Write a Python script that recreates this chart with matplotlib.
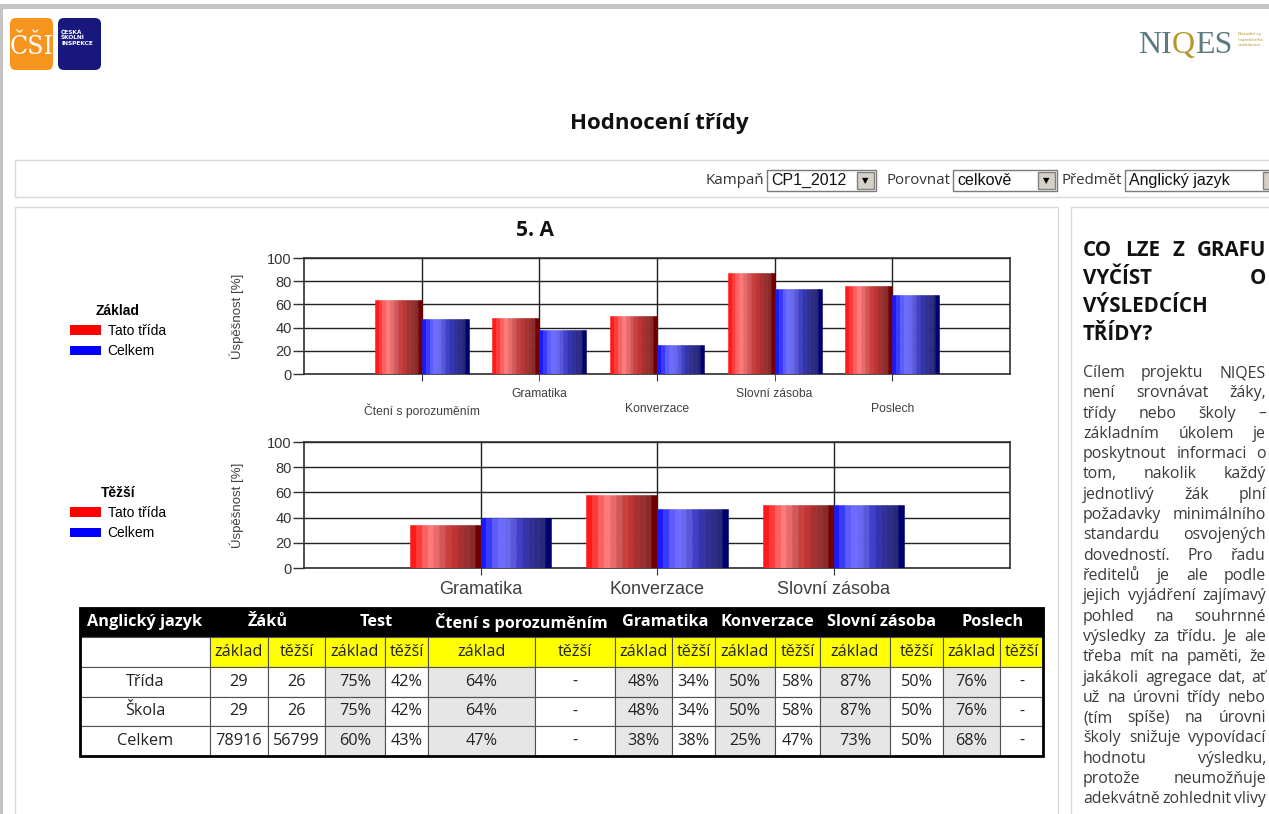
import matplotlib
matplotlib.use('Agg')
import matplotlib.pyplot as plt
from matplotlib.patches import Rectangle, FancyBboxPatch, Patch
import numpy as np

# chart data
cats_zaklad = ['Čtení s porozuměním', 'Gramatika', 'Konverzace', 'Slovní zásoba', 'Poslech']
trida_zaklad = [64, 48, 50, 87, 76]
celkem_zaklad = [47, 38, 25, 73, 68]

cats_tezsi = ['Gramatika', 'Konverzace', 'Slovní zásoba']
trida_tezsi = [34, 58, 50]
celkem_tezsi = [40, 47, 50]

# table data
table_head = ['Anglický jazyk', 'Žáků', 'Test', 'Čtení s porozuměním', 'Gramatika',
              'Konverzace', 'Slovní zásoba', 'Poslech']
sub_head = ['základ', 'těžší']
row_names = ['Třída', 'Škola', 'Celkem']
zaku_zaklad = ['29', '29', '78916']
zaku_tezsi = ['26', '26', '56799']
test_zaklad = ['75%', '75%', '60%']
test_tezsi = ['42%', '42%', '43%']
cteni_zaklad = ['64%', '64%', '47%']
cteni_tezsi = ['-', '-', '-']
gram_zaklad = ['48%', '48%', '38%']
gram_tezsi = ['34%', '34%', '38%']
konv_zaklad = ['50%', '50%', '25%']
konv_tezsi = ['58%', '58%', '47%']
slov_zaklad = ['87%', '87%', '73%']
slov_tezsi = ['50%', '50%', '50%']
posl_zaklad = ['76%', '76%', '68%']
posl_tezsi = ['-', '-', '-']

heading_lines = ['CO LZE Z GRAFU', 'VYČÍST O', 'VÝSLEDCÍCH', 'TŘÍDY?']
body_lines = [
    'Cílem projektu NIQES', 'není srovnávat žáky,', 'třídy nebo školy –',
    'základním úkolem je', 'poskytnout informaci o', 'tom, nakolik každý',
    'jednotlivý žák plní', 'požadavky minimálního', 'standardu osvojených',
    'dovedností. Pro řadu', 'ředitelů je ale podle', 'jejich vyjádření zajímavý',
    'pohled na souhrnné', 'výsledky za třídu. Je ale', 'třeba mít na paměti, že',
    'jakákoli agregace dat, ať', 'už na úrovni třídy nebo', '(tím spíše) na úrovni',
    'školy snižuje vypovídací', 'hodnotu výsledku,', 'protože neumožňuje',
    'adekvátně zohlednit vlivy',
]

red_stripes = ['#ff1a1a', '#ff3a3a', '#ff6060', '#ff7a7a', '#e86a6a', '#d05858',
               '#c84040', '#c03434', '#a83030', '#983030', '#8a2a2a', '#700000']
blue_stripes = ['#1a1aff', '#3a3aff', '#5c5cff', '#6c6cff', '#6868f0', '#5858d8',
                '#4040c8', '#3434b0', '#303098', '#2c2c8a', '#28287a', '#000070']

W, H = 1269, 814
PAGE_FONT = 'Open Sans'
CHART_FONT = 'Liberation Sans'

fig = plt.figure(figsize=(W / 100, H / 100), dpi=100)


def rect(x, y, w, h):
    return [x / W, 1 - (y + h) / H, w / W, h / H]


bg = fig.add_axes([0, 0, 1, 1], zorder=-5)
bg.set_xlim(0, W)
bg.set_ylim(H, 0)
bg.axis('off')

# page frame
bg.add_patch(Rectangle((0, 4), W, 5, fc='#c4c4c4', ec='none'))
bg.add_patch(Rectangle((0, 4), 3, H, fc='#c4c4c4', ec='none'))
bg.add_patch(Rectangle((15, 160), W, 37, fc='white', ec='#d8d8d8', lw=1))
bg.add_patch(Rectangle((15, 207), 1043, 620, fc='white', ec='#d8d8d8', lw=1))
bg.add_patch(Rectangle((1071, 207), 220, 620, fc='white', ec='#d8d8d8', lw=1))

# logos
bg.add_patch(FancyBboxPatch((12, 20), 39, 48, boxstyle='round,pad=2,rounding_size=6',
                            fc='#f7941e', ec='none'))
bg.text(31.5, 46, 'ČŠI', color='white', fontsize=19, ha='center', va='center',
        family='DejaVu Serif', fontstretch='condensed')
bg.add_patch(FancyBboxPatch((60, 20), 39, 48, boxstyle='round,pad=2,rounding_size=6',
                            fc='#17177e', ec='none'))
bg.text(61, 30, 'ČESKÁ\nŠKOLNÍ\nINSPEKCE', color='white', fontsize=4.2, fontweight='bold',
        ha='left', va='top', family='DejaVu Sans', linespacing=1.1)

t_ni = bg.text(1138, 53, 'NI', color='#5d7a83', fontsize=23, family='Liberation Serif',
               ha='left', va='baseline')
t_q = bg.annotate('Q', xy=(1, 0), xycoords=t_ni, color='#b8962e', fontsize=23,
                  family='Liberation Serif', ha='left', va='bottom')
bg.annotate('ES', xy=(1, 0), xycoords=t_q, color='#5d7a83', fontsize=23,
            family='Liberation Serif', ha='left', va='bottom')
bg.text(1238, 32, 'Národní sy\ninspekčního\nvzdělávací', color='#b8962e', fontsize=3.2,
        ha='left', va='top', linespacing=1.5)

bg.text(659, 124, 'Hodnocení třídy', fontsize=16, fontweight='bold', family=PAGE_FONT,
        ha='center', va='center', color='#111111')

# filter bar
boxes = [(767, 109, 'Kampaň', 'CP1_2012'), (953, 104, 'Porovnat', 'celkově'),
         (1125, 160, 'Předmět', 'Anglický jazyk')]
for bx, bw, label, txt in boxes:
    bg.text(bx - 3, 180, label, fontsize=10.8, family=PAGE_FONT, ha='right', va='center',
            color='#333')
    bg.add_patch(Rectangle((bx, 170), bw, 21, fc='white', ec='#7a7a7a', lw=1))
    bg.text(bx + 4, 180.5, txt, fontsize=11.5, family=CHART_FONT, ha='left', va='center',
            color='#111')
    btn_x = bx + bw - 19
    if btn_x < W - 10:
        bg.add_patch(Rectangle((btn_x, 172), 17, 17, fc='#d4d0c8', ec='#808080', lw=1))
        bg.text(btn_x + 8.5, 181, '▼', fontsize=6, ha='center', va='center', color='black')
bg.add_patch(Rectangle((1263, 172), 10, 17, fc='#d4d0c8', ec='#808080', lw=1))

bg.text(535, 230, '5. A', fontsize=15, fontweight='bold', family=PAGE_FONT,
        ha='center', va='center', color='#111111')


def striped_bars(ax, x, values, offset, colors):
    n = len(colors)
    w = 0.4 / n
    for k, c in enumerate(colors):
        ax.bar(x + offset + k * w, values, width=w, align='edge', color=c,
               edgecolor=c, linewidth=0.4, zorder=3)


def style_chart(ax, ncat):
    ax.set_xlim(-1, ncat)
    ax.set_ylim(0, 100)
    ax.set_yticks(range(0, 101, 20))
    ax.set_axisbelow(True)
    ax.grid(True, which='both', color='#202020', linewidth=1)
    for s in ax.spines.values():
        s.set_color('#303030')
        s.set_linewidth(1.2)
    ax.tick_params(axis='y', length=8, width=1, pad=1, labelsize=10.5,
                   color='#303030', labelcolor='#333333')
    for lbl in ax.get_yticklabels():
        lbl.set_family(CHART_FONT)
    ax.set_ylabel('Úspěšnost [%]', fontsize=9.5, family=CHART_FONT, color='#404040')
    ax.yaxis.set_label_coords(-0.085, 0.5)


# chart 1 - základ
ax1 = fig.add_axes(rect(304, 258, 706, 116))
x1 = np.arange(len(cats_zaklad))
striped_bars(ax1, x1, trida_zaklad, -0.4, red_stripes)
striped_bars(ax1, x1, celkem_zaklad, 0.0, blue_stripes)
style_chart(ax1, len(cats_zaklad))
ax1.set_xticks(x1[::2], [cats_zaklad[i] for i in x1[::2]])
ax1.set_xticks(x1[1::2], [cats_zaklad[i] for i in x1[1::2]], minor=True)
ax1.tick_params(axis='x', which='major', length=5, pad=16, labelsize=8.7,
                color='#303030', labelcolor='#404040')
ax1.tick_params(axis='x', which='minor', length=5, pad=5, labelsize=8.7,
                color='#303030', labelcolor='#404040')
for lbl in ax1.get_xticklabels(which='both'):
    lbl.set_family(CHART_FONT)

# chart 2 - těžší
ax2 = fig.add_axes(rect(304, 442, 706, 126))
x2 = np.arange(len(cats_tezsi))
striped_bars(ax2, x2, trida_tezsi, -0.4, red_stripes)
striped_bars(ax2, x2, celkem_tezsi, 0.0, blue_stripes)
style_chart(ax2, len(cats_tezsi))
ax2.set_xticks(x2, cats_tezsi)
ax2.tick_params(axis='x', length=5, pad=4, labelsize=13, color='#303030', labelcolor='#404040')
for lbl in ax2.get_xticklabels():
    lbl.set_family(CHART_FONT)

for ax, title, cy in [(ax1, 'Základ', 331), (ax2, 'Těžší', 513)]:
    ax.legend(handles=[Patch(fc='#ff0000'), Patch(fc='#0000ff')],
              labels=['Tato třída', 'Celkem'], title=title, loc='center',
              bbox_to_anchor=(118 / W, 1 - cy / H), bbox_transform=fig.transFigure,
              frameon=False, handlelength=2.2, handleheight=0.7, handletextpad=0.5,
              labelspacing=0.45, borderpad=0,
              prop={'family': CHART_FONT, 'size': 10},
              title_fontproperties={'family': CHART_FONT, 'size': 10, 'weight': 'bold'})

# table
col_edges = [80, 210, 268, 325, 385, 428, 535, 615, 672, 715, 775, 820, 890, 943, 1000, 1043]
row_top, row_bot, head_h = 608, 756, 29
axt = fig.add_axes(rect(col_edges[0], row_top, col_edges[-1] - col_edges[0], row_bot - row_top))
axt.axis('off')
tw = col_edges[-1] - col_edges[0]
th = row_bot - row_top
col_w = np.diff(col_edges) / tw
group_w = [col_w[0]] + [col_w[1 + 2 * i] + col_w[2 + 2 * i] for i in range(7)]

head = axt.table(cellText=[table_head], colWidths=group_w, cellLoc='center',
                 bbox=[0, 1 - head_h / th, 1, head_h / th])
head.auto_set_font_size(False)
head.set_fontsize(11.7)
for (r, c), cell in head.get_celld().items():
    cell.set_facecolor('black')
    cell.set_edgecolor('black')
    cell.get_text().set_color('white')
    cell.get_text().set_fontweight('bold')
    cell.get_text().set_family(PAGE_FONT)

pairs = [(zaku_zaklad, zaku_tezsi), (test_zaklad, test_tezsi), (cteni_zaklad, cteni_tezsi),
         (gram_zaklad, gram_tezsi), (konv_zaklad, konv_tezsi), (slov_zaklad, slov_tezsi),
         (posl_zaklad, posl_tezsi)]
body = [[''] + sub_head * len(pairs)]
for i, name in enumerate(row_names):
    row = [name]
    for zk, tz in pairs:
        row += [zk[i], tz[i]]
    body.append(row)

tab = axt.table(cellText=body, colWidths=col_w, cellLoc='center',
                bbox=[0, 0, 1, 1 - head_h / th])
tab.auto_set_font_size(False)
tab.set_fontsize(11.7)
for (r, c), cell in tab.get_celld().items():
    cell.set_edgecolor('#505050')
    cell.set_linewidth(0.8)
    cell.get_text().set_family(PAGE_FONT)
    cell.get_text().set_color('#222222')
    if r == 0:
        cell.set_facecolor('white' if c == 0 else '#ffff00')
    elif c >= 3 and c % 2 == 1:
        cell.set_facecolor('#e6e6e6')
    else:
        cell.set_facecolor('white')
axt.add_patch(Rectangle((0, 0), 1, 1, transform=axt.transAxes, fill=False,
                        ec='black', lw=2, zorder=10, clip_on=False))

# right column text, justified
renderer = fig.canvas.get_renderer()


def justified(words, y, x0, x1, size, weight, color, stretch=True):
    arts = [bg.text(0, y, w, fontsize=size, fontweight=weight, family=PAGE_FONT,
                    color=color, ha='left', va='center') for w in words]
    widths = [a.get_window_extent(renderer).width for a in arts]
    gap = (x1 - x0 - sum(widths)) / (len(words) - 1) if (stretch and len(words) > 1) else 4
    x = x0
    for a, w in zip(arts, widths):
        a.set_x(x)
        x += w + gap


for i, line in enumerate(heading_lines):
    justified(line.split(), 250 + i * 28, 1083, 1266, 14.8, 'bold', '#111111',
              stretch=i < len(heading_lines) - 1)
for i, line in enumerate(body_lines):
    justified(line.split(), 373 + i * 20.3, 1083, 1266, 11.4, 'normal', '#3a3a3a')

fig.savefig('out.png', dpi=100)
